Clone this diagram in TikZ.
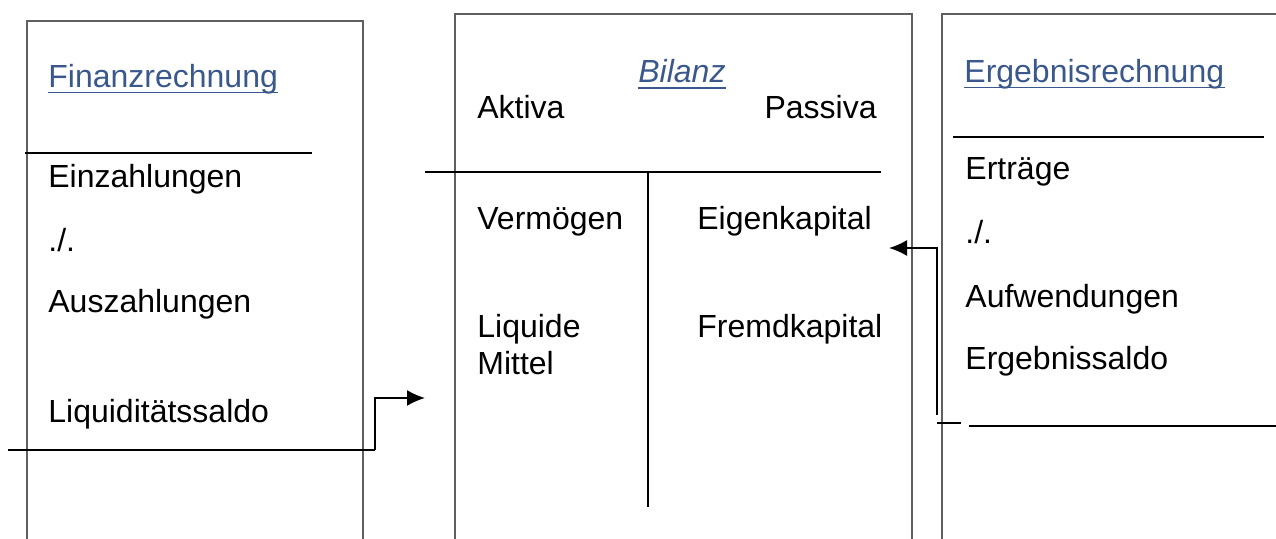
\documentclass[tikz,border=0pt]{standalone}
\usepackage{fontspec}
\setmainfont{Liberation Sans}
\usetikzlibrary{arrows.meta}
\definecolor{frame}{RGB}{95,95,95}
\definecolor{headblue}{RGB}{58,88,140}
\tikzset{
  panel/.style={draw=frame, line width=1.1pt},
  rule/.style={draw=black, line width=0.85pt},
  txt/.style={anchor=base west, inner sep=0pt, font=\fontsize{16pt}{19pt}\selectfont},
  rtxt/.style={txt, anchor=base east},
  head/.style={txt, text=headblue},
  uline/.style={draw=headblue, line width=0.75pt},
  flow/.style={draw=black, line width=0.85pt, -{Latex[length=9pt,width=8pt]}}
}
\begin{document}
\begin{tikzpicture}[x=0.5pt, y=-0.5pt]
\useasboundingbox (0,0) rectangle (1276,539);
\clip (0,0) rectangle (1276,539);

% three account panels, open at the bottom edge
\draw[panel] (27,560) -- (27,21) -- (363,21) -- (363,560);
\draw[panel] (455,560) -- (455,14) -- (912,14) -- (912,560);
\draw[panel] (942,560) -- (942,14) -- (1300,14);

% Finanzrechnung
\node[head] (fin) at (48,88) {Finanzrechnung};
\draw[uline] ([yshift=-2.3pt]fin.base west) -- ([yshift=-2.3pt]fin.base east);
\draw[rule] (25,153) -- (312,153);
\node[txt] (ein) at (48,188) {Einzahlungen};
\node[txt] (minus1) at (48,252) {./.};
\node[txt] (aus) at (48,313) {Auszahlungen};
\node[txt] (liq) at (48,423) {Liquiditätssaldo};
\coordinate (finL) at (8,450);
\coordinate (finR) at (375,450);
\draw[rule] (finL) -- (finR);

% Bilanz
\node[head, font=\fontsize{16pt}{19pt}\selectfont\itshape] (bil) at (638,83) {Bilanz};
\draw[uline] ([yshift=-2.6pt]bil.base west) -- ([yshift=-2.6pt]bil.base east);
\node[txt] (akt) at (477,119) {Aktiva};
\node[rtxt] (pas) at (877,119) {Passiva};
\coordinate (bilL) at (425,172);
\coordinate (bilR) at (881,172);
\coordinate (bilM) at (648,172);
\coordinate (bilB) at (648,507);
\draw[rule] (bilL) -- (bilR);
\draw[rule] (bilM) -- (bilB);
\node[txt] (verm) at (477,230) {Vermögen};
\node[txt] (ek) at (697,230) {Eigenkapital};
\node[txt] (lm) at (477,338) {Liquide};
\node[txt] (lm2) at (477,375) {Mittel};
\node[txt] (fk) at (697,338) {Fremdkapital};
\coordinate (bilIn) at (425,398);
\coordinate (ekIn) at (889,248);

% Ergebnisrechnung
\node[head] (erg) at (964,83) {Ergebnisrechnung};
\draw[uline] ([yshift=-2.3pt]erg.base west) -- ([yshift=-2.3pt]erg.base east);
\draw[rule] (953,137) -- (1264,137);
\node[txt] (ertr) at (965,180) {Erträge};
\node[txt] (minus2) at (965,244) {./.};
\node[txt] (aufw) at (965,308) {Aufwendungen};
\node[txt] (saldo) at (965,370) {Ergebnissaldo};
\coordinate (ergS) at (937,423);
\coordinate (ergT) at (961,423);
\coordinate (ergA) at (937,415);
\draw[rule] (ergS) -- (ergT);
\draw[rule] (969,426) -- (1276,426);

% transfers into the balance sheet
\draw[flow] (finR) |- (bilIn);
\draw[flow] (ergA) |- (ekIn);
\end{tikzpicture}
\end{document}
